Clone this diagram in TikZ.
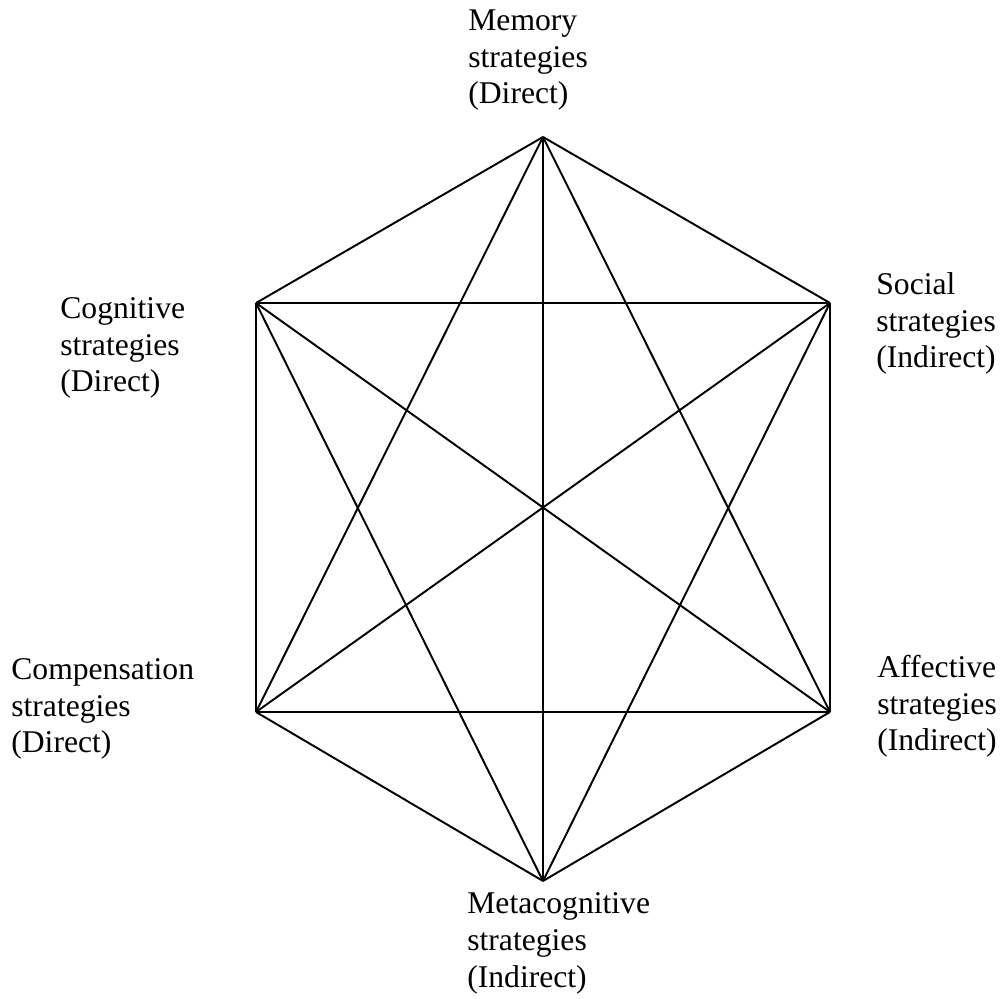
\documentclass[tikz,border=0pt]{standalone}
\usepackage{fontspec}
\setmainfont{Liberation Serif}
\begin{document}
\begin{tikzpicture}[x=0.02cm,y=-0.02cm,
  edge/.style={line width=1.1pt, line join=round},
  lbl/.style={inner sep=0pt, align=left, anchor=base west,
    font=\fontsize{18pt}{21pt}\selectfont}]
\useasboundingbox (0,0) rectangle (1001,999);
\coordinate (T) at (543,137);
\coordinate (UL) at (256,303);
\coordinate (UR) at (830,303);
\coordinate (LL) at (256,712);
\coordinate (LR) at (830,712);
\coordinate (B) at (543,881);
\foreach \a/\b in {T/UL,T/UR,T/LL,T/LR,T/B,UL/UR,UL/LL,UL/LR,UL/B,UR/LL,UR/LR,UR/B,LL/LR,LL/B,LR/B}
  \draw[edge] (\a) -- (\b);
% anchor is the baseline of the last line
\node[lbl] (mem) at (468,104) {Memory\\strategies\\(Direct)};
\node[lbl] (cog) at (60,392) {Cognitive\\strategies\\(Direct)};
\node[lbl] (soc) at (876,368) {Social\\strategies\\(Indirect)};
\node[lbl] (com) at (11,753) {Compensation\\strategies\\(Direct)};
\node[lbl] (aff) at (877,751) {Affective\\strategies\\(Indirect)};
\node[lbl] (met) at (467,987) {Metacognitive\\strategies\\(Indirect)};
\end{tikzpicture}
\end{document}
